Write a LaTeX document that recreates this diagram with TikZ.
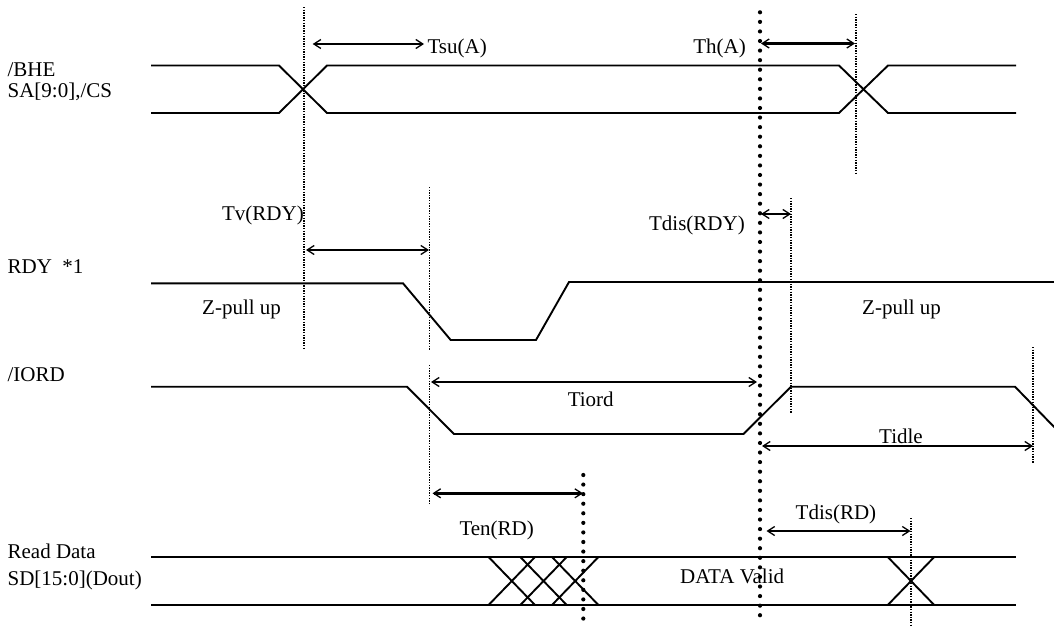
\documentclass[tikz,border=0pt]{standalone}
\usepackage{fontspec}
\setmainfont{Liberation Serif}
\usetikzlibrary{arrows.meta}
\begin{document}
\begin{tikzpicture}[x=1pt,y=-1pt,
  sig/.style={line width=1.9pt, line join=miter},
  thindot/.style={line width=1.4pt, dash pattern=on 1.3pt off 1.3pt},
  bigdot/.style={line width=4.2pt, line cap=round, dash pattern=on 0pt off 9.57pt},
  barb/.tip={Straight Barb[length=7pt,width=9pt,line width=1.3pt]},
  dim/.style={line width=2.4pt, barb-barb},
  lbl/.style={font=\fontsize{21}{25}\selectfont, inner sep=0pt, anchor=base west},
  lble/.style={lbl, anchor=base east},
]
\useasboundingbox (0,0) rectangle (1054,627);
\clip (0,0) rectangle (1054,627);

% ---- guide lines ----
\coordinate (A1) at (304,7);     \coordinate (A2) at (304,350);
\coordinate (B1) at (856,14);    \coordinate (B2) at (856,173);
\coordinate (C1) at (429.5,187); \coordinate (C2) at (429.5,350);
\coordinate (C3) at (429.5,365); \coordinate (C4) at (429.5,503);
\coordinate (D1) at (791,198);   \coordinate (D2) at (791,413);
\coordinate (E1) at (1033,347);  \coordinate (E2) at (1033,463);
\coordinate (F1) at (911,518);   \coordinate (F2) at (911,627);
\coordinate (M1) at (760,12.3);  \coordinate (M2) at (760,620);
\coordinate (N1) at (583.3,475); \coordinate (N2) at (583.3,620);

\draw[thindot] (A1) -- (A2);
\draw[thindot] (B1) -- (B2);
\draw[thindot] (C1) -- (C2);
\draw[thindot] (C3) -- (C4);
\draw[thindot] (D1) -- (D2);
\draw[thindot] (E1) -- (E2);
\draw[thindot] (F1) -- (F2);
\draw[bigdot] (M1) -- (M2);
\draw[bigdot] (N1) -- (N2);

% ---- signal labels ----
\node[lbl] (bhe)  at (7.4,76)    {/BHE};
\node[lbl] (sa)   at (7.4,97)    {SA[9:0],/CS};
\node[lbl] (rdy)  at (7.4,273.5) {RDY\ \ *1};
\node[lbl] (iord) at (7.4,381.5) {/IORD};
\node[lbl] (rd)   at (7.4,558)   {Read Data};
\node[lbl] (sd)   at (7.4,585)   {SD[15:0](Dout)};

% ---- address bus ----
\draw[sig] (151,65.5) -- (279,65.5) -- (327,113) -- (839,113) -- (888,65.5) -- (1016,65.5);
\draw[sig] (151,113) -- (279,113) -- (327,65.5) -- (839,65.5) -- (888,113) -- (1016,113);

% ---- RDY ----
\draw[sig] (151,283.3) -- (403,283.3) -- (450.7,340) -- (536,340) -- (569,282) -- (1054,282);

% ---- /IORD ----
\draw[sig] (151,386.7) -- (407,386.7) -- (454,434) -- (743.5,434) -- (791,386.7) -- (1015,386.7) -- (1058,431);

% ---- data bus ----
\draw[sig] (151,556.7) -- (1016,556.7);
\draw[sig] (151,605.3) -- (1016,605.3);
\foreach \x in {488.3,520,551.7,887.5} {
  \draw[sig] (\x,556.7) -- ({\x+47},605.3);
  \draw[sig] (\x,605.3) -- ({\x+47},556.7);
}

% ---- dimension arrows ----
\coordinate (tsuL) at (312.7,44);  \coordinate (tsuR) at (424,44);
\coordinate (thL)  at (761,43.5);  \coordinate (thR)  at (855,43.5);
\coordinate (tvL)  at (306,250);   \coordinate (tvR)  at (429,250);
\coordinate (tdyL) at (761,214);   \coordinate (tdyR) at (791,214);
\coordinate (tioL) at (431,382);   \coordinate (tioR) at (757,382);
\coordinate (tidL) at (762,446);   \coordinate (tidR) at (1033,446);
\coordinate (tenL) at (432.5,493.3); \coordinate (tenR) at (583,493.3);
\coordinate (tdrL) at (766.5,531); \coordinate (tdrR) at (910.5,531);

\draw[dim] (tsuL) -- (tsuR);
\draw[dim] (thL) -- (thR);
\draw[dim] (tvL) -- (tvR);
\draw[dim] (tdyL) -- (tdyR);
\draw[dim] (tioL) -- (tioR);
\draw[dim] (tidL) -- (tidR);
\draw[dim] (tenL) -- (tenR);
\draw[dim] (tdrL) -- (tdrR);

% ---- timing labels ----
\node[lbl]  (tsu)  at (427.4,53.3) {Tsu(A)};
\node[lble] (th)   at (746,53.3)   {Th(A)};
\node[lble] (tv)   at (304,220)    {Tv(RDY)};
\node[lble] (tdy)  at (745,230)    {Tdis(RDY)};
\node[lbl]  (zl)   at (202,314)    {Z-pull up};
\node[lbl]  (zr)   at (862,314)    {Z-pull up};
\node[lbl]  (tio)  at (567.6,406)  {Tiord};
\node[lbl]  (tid)  at (879,443.3)  {Tidle};
\node[lbl]  (ten)  at (459.3,535)  {Ten(RD)};
\node[lbl]  (tdr)  at (795.5,519.3) {Tdis(RD)};
\node[lbl]  (dv)   at (680,583.3)  {DATA Valid};
\end{tikzpicture}
\end{document}
